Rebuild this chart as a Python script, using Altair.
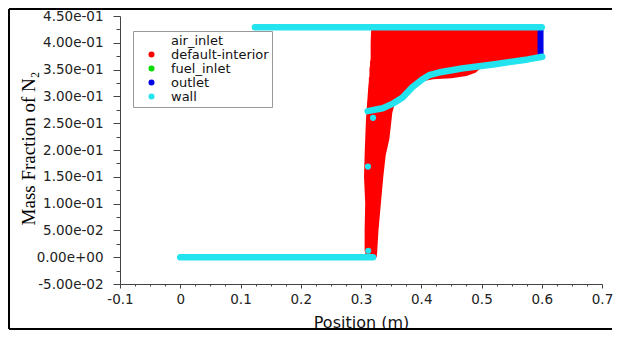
import altair as alt
import pandas as pd
import numpy as np

# ---------------- data ----------------
series_names = ["air_inlet", "default-interior", "fuel_inlet", "outlet", "wall"]
series_colors = ["#ffffff", "#ff0000", "#00dd00", "#0000e6", "#22e3ee"]

# default-interior: filled cloud of points (left / right extent per height)
interior_y = [0.000, 0.012, 0.050, 0.100, 0.150, 0.190, 0.220, 0.250, 0.270, 0.286,
              0.300, 0.317, 0.328, 0.332, 0.334, 0.338, 0.344, 0.352, 0.357, 0.360,
              0.365, 0.369, 0.374, 0.400, 0.427]
interior_left = [0.309, 0.306, 0.306, 0.307, 0.305, 0.306, 0.307, 0.308, 0.309, 0.310,
                 0.311, 0.312, 0.313, 0.313, 0.313, 0.314, 0.314, 0.314, 0.315, 0.315,
                 0.315, 0.316, 0.316, 0.316, 0.317]
interior_right = [0.326, 0.327, 0.329, 0.333, 0.337, 0.341, 0.347, 0.350, 0.352, 0.356,
                  0.370, 0.386, 0.400, 0.420, 0.450, 0.475, 0.490, 0.498, 0.510, 0.522,
                  0.550, 0.577, 0.600, 0.600, 0.600]

# wall: three continuous segments
wall_bottom_x = [0.000, 0.320]
wall_bottom_y = [0.000, 0.000]
wall_top_x = [0.124, 0.600]
wall_top_y = [0.429, 0.429]
wall_curve_x = [0.311, 0.336, 0.352, 0.369, 0.385, 0.402, 0.413, 0.429, 0.467, 0.522, 0.577, 0.601]
wall_curve_y = [0.2725, 0.278, 0.286, 0.298, 0.317, 0.332, 0.3395, 0.3445, 0.352, 0.360, 0.369, 0.374]
# isolated wall points
wall_dot_x = [0.3115, 0.320, 0.312]
wall_dot_y = [0.169, 0.260, 0.012]

# outlet
outlet_x = [0.598, 0.598]
outlet_y = [0.374, 0.428]

# axis tick labels
y_tick_labels = ["-5.00e-02", "0.00e+00", "5.00e-02", "1.00e-01", "1.50e-01", "2.00e-01",
                 "2.50e-01", "3.00e-01", "3.50e-01", "4.00e-01", "4.50e-01"]
x_tick_labels = ["-0.1", "0", "0.1", "0.2", "0.3", "0.4", "0.5", "0.6", "0.7"]

# ---------------- tables ----------------
interior_df = pd.DataFrame({"y": interior_y, "left": interior_left, "right": interior_right,
                            "series": "default-interior"})
wall_df = pd.concat([
    pd.DataFrame({"x": wall_bottom_x, "y": wall_bottom_y, "seg": "bottom"}),
    pd.DataFrame({"x": wall_top_x, "y": wall_top_y, "seg": "top"}),
    pd.DataFrame({"x": wall_curve_x, "y": wall_curve_y, "seg": "curve"}),
], ignore_index=True)
wall_df["series"] = "wall"
dots_df = pd.DataFrame({"x": wall_dot_x, "y": wall_dot_y, "series": "wall"})
outlet_df = pd.DataFrame({"x": outlet_x, "y": outlet_y, "series": "outlet"})

color_scale = alt.Scale(domain=series_names, range=series_colors)

y_vals = [round(v, 4) for v in np.arange(-0.05, 0.4501, 0.025)]
x_vals = [round(v, 4) for v in np.arange(-0.1, 0.7001, 0.025)]

y_label_list = "[" + ",".join("'%s'" % s for s in y_tick_labels) + "]"
x_label_list = "[" + ",".join("'%s'" % s for s in x_tick_labels) + "]"
y_major = "abs(datum.value*20 - round(datum.value*20)) < 0.001"
x_major = "abs(datum.value*10 - round(datum.value*10)) < 0.001"

x_scale = alt.Scale(domain=[-0.1, 0.7], nice=False, zero=False)
y_scale = alt.Scale(domain=[-0.05, 0.45], nice=False, zero=False)

x_axis = alt.Axis(
    values=x_vals,
    labelExpr=f"{x_major} ? {x_label_list}[round((datum.value+0.1)*10)] : ''",
    tickSize={"condition": {"test": x_major, "value": 4}, "value": 2},
    labelPadding=4, labelFont="DejaVu Sans", labelFontSize=13.5, labelColor="#222",
    labelFlush=False, labelOverlap=False, labelBound=False,
    domainColor="#444", tickColor="#444", grid=False,
    title="Position (m)", titleFont="DejaVu Sans", titleFontSize=16, titleFontWeight="normal",
    titleColor="#111", titleY=43, titleBaseline="alphabetic",
)
y_axis = alt.Axis(
    values=y_vals,
    labelExpr=f"{y_major} ? {y_label_list}[round((datum.value+0.05)*20)] : ''",
    tickSize={"condition": {"test": y_major, "value": 7}, "value": 4},
    labelPadding=10, labelFont="DejaVu Sans", labelFontSize=13.5, labelColor="#222",
    labelFlush=False, labelOverlap=False, labelBound=False,
    domainColor="#444", tickColor="#444", grid=False,
    title="Mass Fraction of N₂", titleFont="Liberation Serif", titleFontSize=19,
    titleFontWeight="normal", titleColor="#000", titleAngle=270, titleX=-86, titleY=132,
    titleAlign="center", titleBaseline="alphabetic",
)

X = lambda f: alt.X(f, type="quantitative", scale=x_scale, axis=x_axis)
Y = lambda f: alt.Y(f, type="quantitative", scale=y_scale, axis=y_axis)

# decorative figure frame (left, top, bottom edges only, as in the reference)
one = pd.DataFrame({"k": [0]})
frame_style = dict(color="#000", strokeWidth=2)
frame_left = alt.Chart(one).mark_rule(**frame_style).encode(
    x=alt.value(-111), y=alt.value(-7), y2=alt.value(313))
frame_top = alt.Chart(one).mark_rule(**frame_style).encode(
    x=alt.value(-111), x2=alt.value(492), y=alt.value(-7))
frame_bottom = alt.Chart(one).mark_rule(**frame_style).encode(
    x=alt.value(-111), x2=alt.value(492), y=alt.value(313))

interior = alt.Chart(interior_df).mark_area(orient="horizontal", interpolate="linear").encode(
    y=Y("y"),
    x=X("left"),
    x2="right:Q",
    color=alt.Color("series:N", scale=color_scale, legend=None),
)

outlet = alt.Chart(outlet_df).mark_line(strokeWidth=6, strokeCap="butt").encode(
    x=X("x"), y=Y("y"),
    color=alt.Color("series:N", scale=color_scale, legend=None),
)

wall = alt.Chart(wall_df).mark_line(strokeWidth=6.5, strokeCap="round", strokeJoin="round").encode(
    x=X("x"), y=Y("y"),
    detail="seg:N",
    order=alt.Order("x:Q"),
    color=alt.Color("series:N", scale=color_scale, legend=None),
)

dots = alt.Chart(dots_df).mark_circle(size=38, opacity=1).encode(
    x=X("x"), y=Y("y"),
    color=alt.Color("series:N", scale=color_scale, legend=alt.Legend(
        title=None, orient="none", legendX=13, legendY=15,
        strokeColor="#999", fillColor="#fff", padding=3,
        symbolType="circle", symbolSize=36, symbolStrokeWidth=0, symbolOffset=9,
        labelFont="DejaVu Sans", labelFontSize=13, labelColor="#111",
        labelOffset=13, rowPadding=-1.5, labelLimit=300,
    )),
)

chart = alt.layer(frame_left, frame_top, frame_bottom, interior, outlet, wall, dots).resolve_scale(
    color="independent"
).properties(
    width=482, height=268,
    autosize=alt.AutoSizeParams(type="none"),
    padding={"left": 112, "top": 8, "right": 11, "bottom": 46},
).configure_view(stroke=None).configure_axis(labelOverlap=False)

chart.save("out.html", embed_options={"renderer": "svg", "actions": False})
